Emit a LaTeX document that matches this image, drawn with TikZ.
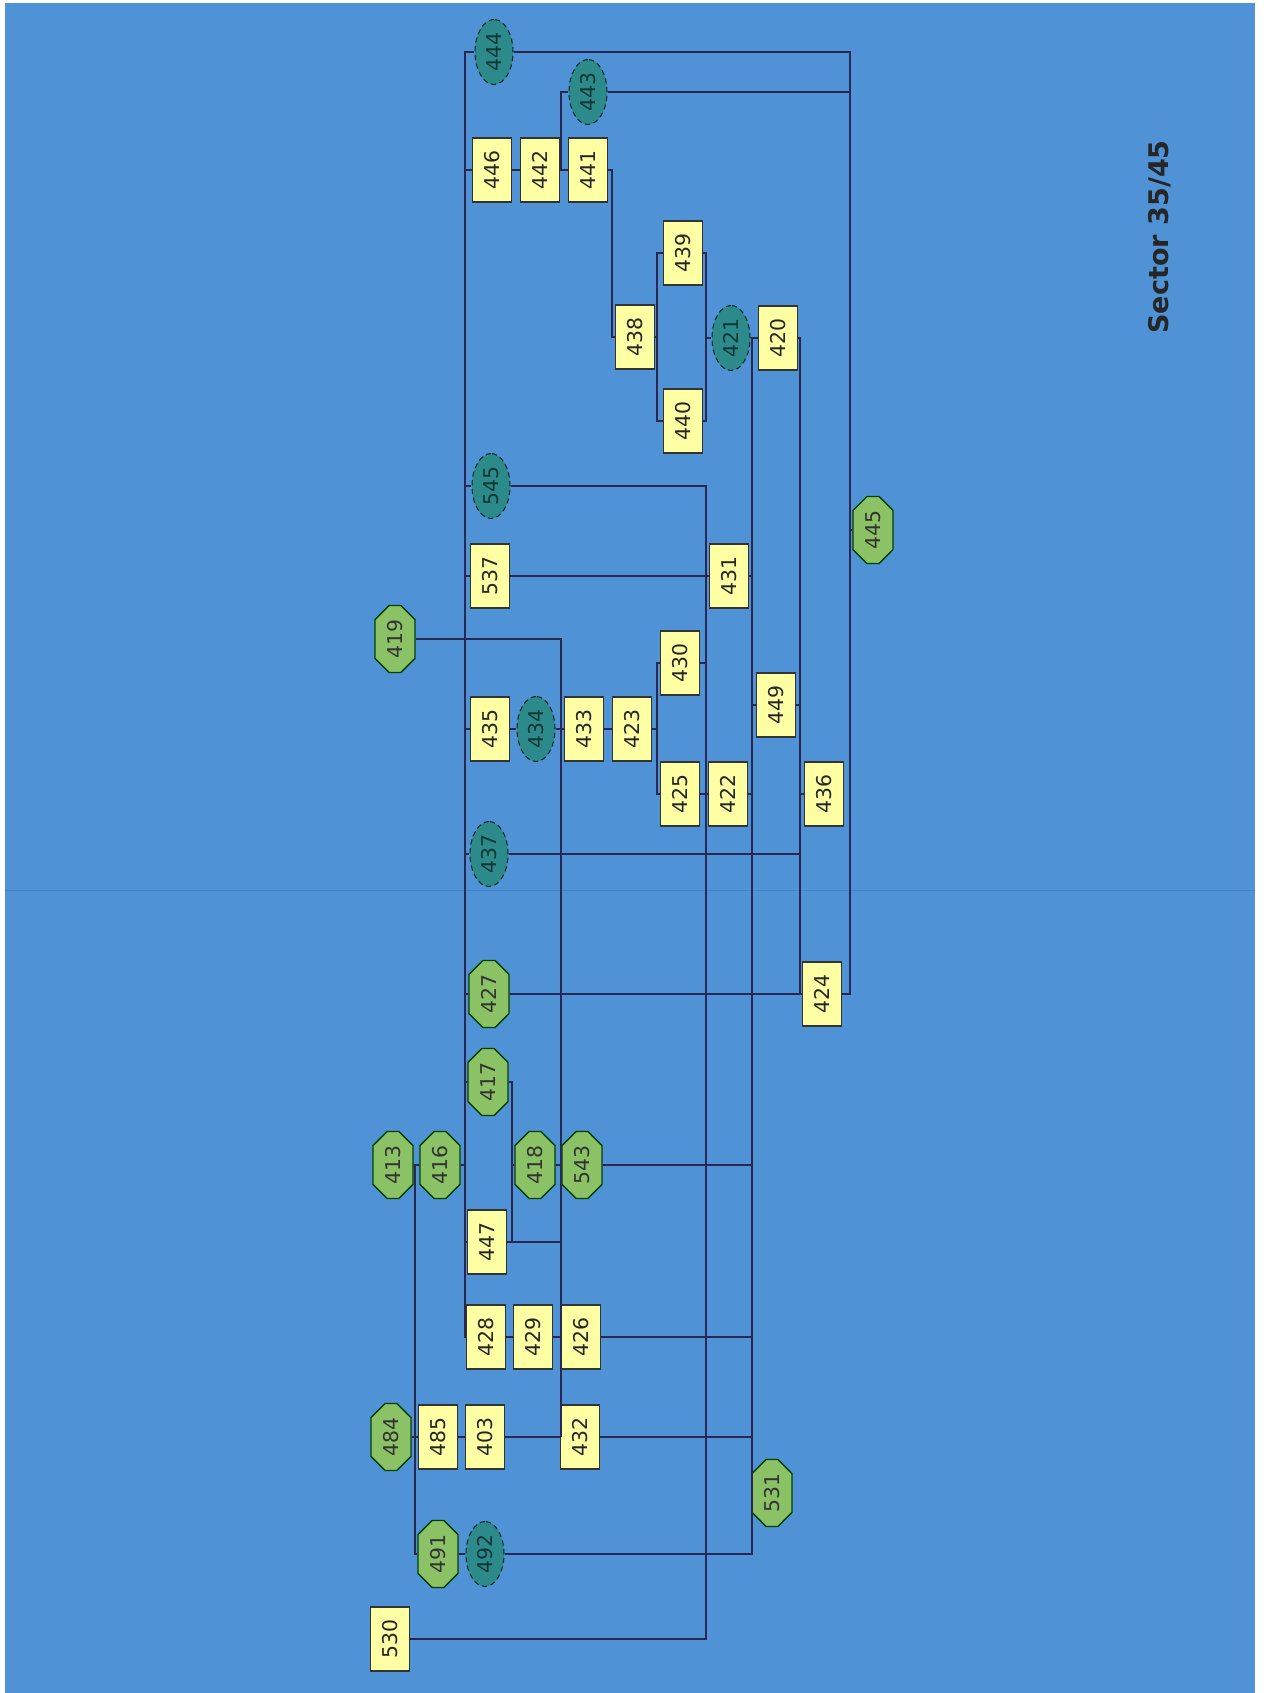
\documentclass[tikz,border=0pt]{standalone}
\usepackage{fontspec}
\setmainfont{DejaVu Sans}
\definecolor{sheetBlue}{HTML}{4F92D6}
\definecolor{foldBlue}{HTML}{3A78C2}
\definecolor{boxYellow}{HTML}{FFFFA4}
\definecolor{octGreen}{HTML}{8CC266}
\definecolor{ovalTeal}{HTML}{2C8A8A}
\definecolor{lineNavy}{HTML}{2A2850}
\usetikzlibrary{shapes.geometric, shapes.misc}

\begin{document}
\begin{tikzpicture}[
    x=0.02cm, y=-0.02cm,
    box/.style={rectangle, rotate=90, draw=black!80, fill=boxYellow, line width=0.8pt,
                minimum width=1.28cm, minimum height=0.78cm, inner sep=0pt,
                text=black!85, font=\fontsize{11.6}{12}\selectfont},
    oct/.style={chamfered rectangle, chamfered rectangle xsep=0.19cm, rotate=90,
                draw=black!75!green, fill=octGreen, line width=0.8pt,
                minimum width=1.34cm, minimum height=0.8cm, inner sep=0pt,
                text=black!80, font=\fontsize{11.6}{12}\selectfont},
    oval/.style={ellipse, rotate=90, draw=black!70!ovalTeal, densely dashed, fill=ovalTeal,
                 line width=0.6pt, minimum width=1.3cm, minimum height=0.76cm, inner sep=0pt,
                 text=black!60!ovalTeal, font=\fontsize{11.6}{12}\selectfont},
    wire/.style={draw=lineNavy, line width=1pt},
    heading/.style={rotate=90, text=black!85, font=\fontsize{15.4}{16}\selectfont\bfseries}
  ]
    % sheet
    \fill[white] (0,0) rectangle (1272,1693);
    \fill[sheetBlue] (5,3) rectangle (1255,1693);
    \draw[foldBlue, line width=0.5pt, opacity=0.5] (5,890) -- (1255,890);
    \useasboundingbox (0,0) rectangle (1272,1693);

    \node[heading] (title) at (1160,237) {Sector 35/45};

    % boxes
    \node[box] (n446) at (492,170) {446};
    \node[box] (n442) at (540,170) {442};
    \node[box] (n441) at (588,170) {441};
    \node[box] (n439) at (683,253) {439};
    \node[box] (n438) at (635,337) {438};
    \node[box] (n440) at (683,421) {440};
    \node[box] (n420) at (778,338) {420};
    \node[box] (n537) at (490,576) {537};
    \node[box] (n431) at (729,576) {431};
    \node[box] (n430) at (680,663) {430};
    \node[box] (n449) at (776,705) {449};
    \node[box] (n435) at (490,729) {435};
    \node[box] (n433) at (584,729) {433};
    \node[box] (n423) at (632,729) {423};
    \node[box] (n425) at (680,794) {425};
    \node[box] (n422) at (728,794) {422};
    \node[box] (n436) at (824,794) {436};
    \node[box] (n424) at (822,994) {424};
    \node[box] (n447) at (487,1242) {447};
    \node[box] (n428) at (486,1337) {428};
    \node[box] (n429) at (533,1337) {429};
    \node[box] (n426) at (581,1337) {426};
    \node[box] (n485) at (438,1437) {485};
    \node[box] (n403) at (485,1437) {403};
    \node[box] (n432) at (580,1437) {432};
    \node[box] (n530) at (390,1639) {530};

    % ovals
    \node[oval] (n444) at (494,52) {444};
    \node[oval] (n443) at (588,92) {443};
    \node[oval] (n421) at (731,338) {421};
    \node[oval] (n545) at (491,486) {545};
    \node[oval] (n434) at (536,729) {434};
    \node[oval] (n437) at (489,854) {437};
    \node[oval] (n492) at (485,1554) {492};

    % octagons
    \node[oct] (n419) at (395,639) {419};
    \node[oct] (n445) at (873,530) {445};
    \node[oct] (n427) at (489,994) {427};
    \node[oct] (n417) at (488,1082) {417};
    \node[oct] (n413) at (393,1165) {413};
    \node[oct] (n416) at (440,1165) {416};
    \node[oct] (n418) at (535,1165) {418};
    \node[oct] (n543) at (582,1165) {543};
    \node[oct] (n484) at (391,1437) {484};
    \node[oct] (n531) at (772,1493) {531};
    \node[oct] (n491) at (438,1554) {491};

    % vertical runs
    \coordinate (vA) at (415,0);
    \coordinate (vB) at (465,0);
    \coordinate (vC) at (512,0);
    \coordinate (vD) at (561,0);
    \coordinate (vF) at (612,0);
    \coordinate (vG) at (657,0);
    \coordinate (vH) at (706,0);
    \coordinate (vK) at (752,0);
    \coordinate (vL) at (800,0);
    \coordinate (vM) at (850,0);

    % left run
    \draw[wire] (n444) -| (vB |- n428) -- (n428);
    \draw[wire] (n446) -- (vB |- n446);
    \draw[wire] (n545) -- (vB |- n545);
    \draw[wire] (n537) -- (vB |- n537);
    \draw[wire] (n435) -- (vB |- n435);
    \draw[wire] (n437) -- (vB |- n437);
    \draw[wire] (n427) -- (vB |- n427);
    \draw[wire] (n417) -- (vB |- n417);
    \draw[wire] (n416) -- (vB |- n416);
    \draw[wire] (n447) -- (vB |- n447);

    % 413 run
    \draw[wire] (n413) -- (n416);
    \draw[wire] (vA |- n416) |- (n491);
    \draw[wire] (n484) -- (n485);
    \draw[wire] (n485) -- (n403);
    \draw[wire] (n403) -- (n432);
    \draw[wire] (n491) -- (n492);

    % 417 run
    \draw[wire] (n417) -| (vC |- n447);
    \draw[wire] (n418) -- (vC |- n418);
    \draw[wire] (n447) -- (vD |- n447);

    % 419 run
    \draw[wire] (n419) -| (vD |- n432);
    \draw[wire] (n435) -- (n434);
    \draw[wire] (n434) -- (n433);
    \draw[wire] (n433) -- (n423);
    \draw[wire] (n418) -- (n543);
    \draw[wire] (n428) -- (n429);
    \draw[wire] (n429) -- (n426);

    % top group
    \draw[wire] (n446) -- (n442);
    \draw[wire] (n442) -- (n441);
    \draw[wire] (n443) -| (vD |- n441);
    \draw[wire] (n441) -| (vF |- n438) -- (n438);
    \draw[wire] (n439) -| (vG |- n440) -- (n440);
    \draw[wire] (n438) -- (vG |- n438);
    \draw[wire] (n439) -| (vH |- n440) -- (n440);
    \draw[wire] (n421) -- (vH |- n421);
    \draw[wire] (n421) -- (n420);

    % 430 / 425
    \draw[wire] (n430) -| (vG |- n425) -- (n425);
    \draw[wire] (n423) -- (vG |- n423);

    % 545 run
    \draw[wire] (n545) -| (vH |- n530) -- (n530);
    \draw[wire] (n537) -- (n431);
    \draw[wire] (n430) -- (vH |- n430);
    \draw[wire] (n425) -- (n422);

    % 421 run
    \draw[wire] (vK |- n420) |- (n492);
    \draw[wire] (n431) -- (vK |- n431);
    \draw[wire] (n449) -- (vK |- n449);
    \draw[wire] (n422) -- (vK |- n422);
    \draw[wire] (n543) -- (vK |- n543);
    \draw[wire] (n426) -- (vK |- n426);
    \draw[wire] (n432) -- (vK |- n432);
    \draw[wire] (n531) -- (vK |- n531);

    % 420 run
    \draw[wire] (n420) -| (vL |- n424) -- (n424);
    \draw[wire] (n449) -- (vL |- n449);
    \draw[wire] (n436) -- (vL |- n436);
    \draw[wire] (n437) -- (vL |- n437);
    \draw[wire] (n427) -- (n424);

    % 444 run
    \draw[wire] (n444) -| (vM |- n424) -- (n424);
    \draw[wire] (n443) -- (vM |- n443);
    \draw[wire] (n445) -- (vM |- n445);
  \end{tikzpicture}
\end{document}
